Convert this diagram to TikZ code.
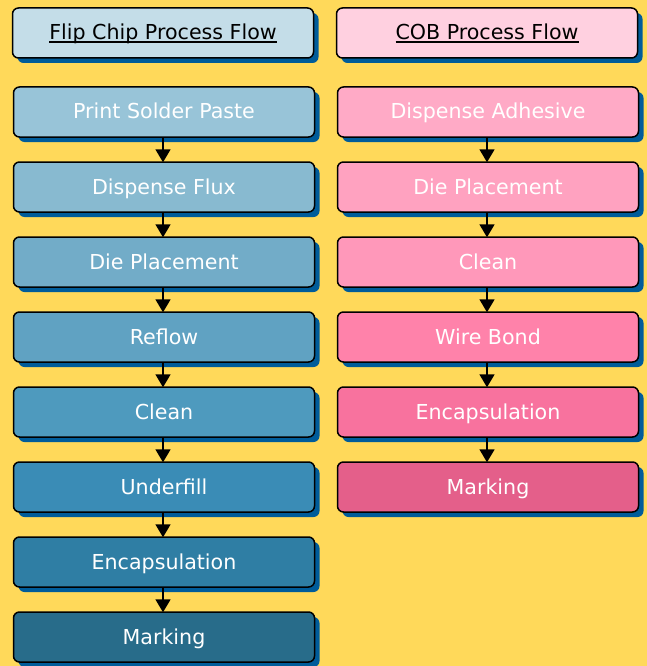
\documentclass[tikz,border=0pt]{standalone}
\usepackage{fontspec}
\setmainfont{DejaVu Sans}
\usetikzlibrary{shadows,arrows.meta}
\definecolor{bgyellow}{HTML}{FFD95A}
\definecolor{shadowblue}{HTML}{005C9A}
\definecolor{lh}{HTML}{C4DDE8}
\definecolor{la}{HTML}{98C4D8}
\definecolor{lb}{HTML}{88BAD0}
\definecolor{lc}{HTML}{72ACC8}
\definecolor{ld}{HTML}{60A2C2}
\definecolor{le}{HTML}{4E9ABE}
\definecolor{lf}{HTML}{3A8CB6}
\definecolor{lg}{HTML}{2F7EA4}
\definecolor{lk}{HTML}{286C8A}
\definecolor{rh}{HTML}{FFD0E0}
\definecolor{ra}{HTML}{FFAAC6}
\definecolor{rb}{HTML}{FFA2C0}
\definecolor{rc}{HTML}{FF98BA}
\definecolor{rd}{HTML}{FF82AA}
\definecolor{re}{HTML}{F8729E}
\definecolor{rf}{HTML}{E45F8A}
\newcommand\hdul[1]{\setbox0\hbox{#1}\rlap{\usebox0}\rule[-3pt]{\wd0}{1.6pt}}
\tikzset{
  box/.style={draw=black, line width=1.5pt, rounded corners=6pt,
    minimum width=301pt, minimum height=50pt, inner sep=0pt,
    text height=15pt, text depth=1pt,
    font=\fontsize{20.6}{24}\selectfont,
    drop shadow={shadow xshift=5pt, shadow yshift=-5pt, opacity=1, fill=shadowblue}},
  hdr/.style={box, text=black},
  stepbox/.style={box, text=white},
  arr/.style={draw=black, line width=1.8pt, -{Triangle[width=15pt,length=13pt]}, shorten >=-1pt}
}
\begin{document}
\begin{tikzpicture}[x=1pt,y=-1pt]
\fill[bgyellow] (0,0) rectangle (647,666);
\useasboundingbox (0,0) rectangle (647,666);
% left column
\node[hdr, fill=lh] (lh) at (163,33) {\hdul{Flip Chip Process Flow}};
\node[stepbox, fill=la] (l1) at (164,112) {Print Solder Paste};
\node[stepbox, fill=lb] (l2) at (164,187) {Dispense Flux};
\node[stepbox, fill=lc] (l3) at (164,262) {Die Placement};
\node[stepbox, fill=ld] (l4) at (164,337) {Reflow};
\node[stepbox, fill=le] (l5) at (164,412) {Clean};
\node[stepbox, fill=lf] (l6) at (164,487) {Underfill};
\node[stepbox, fill=lg] (l7) at (164,562) {Encapsulation};
\node[stepbox, fill=lk] (l8) at (164,637) {Marking};
% right column
\node[hdr, fill=rh] (rh) at (487,33) {\hdul{COB Process Flow}};
\node[stepbox, fill=ra] (r1) at (488,112) {Dispense Adhesive};
\node[stepbox, fill=rb] (r2) at (488,187) {Die Placement};
\node[stepbox, fill=rc] (r3) at (488,262) {Clean};
\node[stepbox, fill=rd] (r4) at (488,337) {Wire Bond};
\node[stepbox, fill=re] (r5) at (488,412) {Encapsulation};
\node[stepbox, fill=rf] (r6) at (488,487) {Marking};
% arrows
\foreach \a/\b in {l1/l2,l2/l3,l3/l4,l4/l5,l5/l6,l6/l7,l7/l8,r1/r2,r2/r3,r3/r4,r4/r5,r5/r6}
  \draw[arr] ([xshift=-1pt]\a.south) -- ([xshift=-1pt]\b.north);
\end{tikzpicture}
\end{document}
